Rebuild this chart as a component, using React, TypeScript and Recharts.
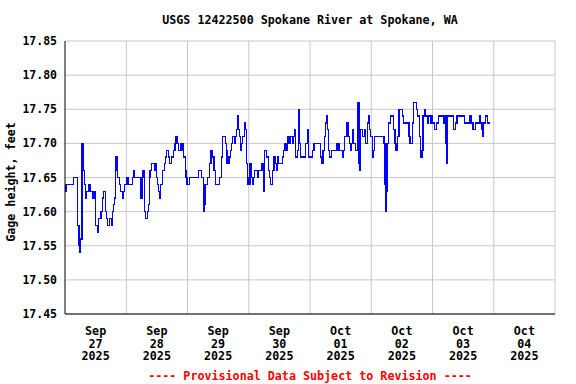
import React from 'react';
import { LineChart, Line, XAxis, YAxis, CartesianGrid, ReferenceLine } from 'recharts';

// hours since 2025-09-27 00:00 (local) at which the gage value changes
const hours = [
  0, 0.4, 3.4, 5.0, 5.5, 5.8, 6.0, 6.7, 7.1, 7.6, 8.1, 8.4, 9.3, 9.8, 11.0, 11.4, 11.9, 12.6, 13.1, 14.1,
  14.8, 15.2, 15.8, 16.2, 16.7, 17.5, 18.2, 18.6, 19.0, 19.5, 19.8, 20.0, 20.4, 20.7, 21.4, 21.8, 22.4, 22.8, 23.3, 24.3,
  24.7, 26.3, 26.7, 27.2, 29.8, 30.2, 30.6, 31.0, 31.3, 31.6, 32.2, 32.6, 33.0, 33.3, 34.0, 35.0, 35.4, 35.8, 36.2, 36.7,
  37.1, 37.5, 38.2, 39.1, 39.5, 39.9, 40.4, 41.0, 41.6, 42.4, 43.1, 43.5, 44.0, 44.6, 45.2, 45.6, 46.0, 46.5, 47.1, 47.4,
  47.8, 48.8, 52.4, 53.6, 54.2, 54.5, 54.7, 54.9, 55.9, 56.7, 57.2, 57.9, 58.4, 59.0, 60.6, 61.2, 61.6, 62.9, 63.3, 63.5,
  64.3, 64.7, 65.1, 65.7, 66.4, 66.9, 67.3, 67.6, 68.0, 68.3, 68.7, 69.3, 69.7, 70.2, 70.7, 71.0, 71.4, 71.7, 72.1, 72.5,
  73.2, 73.6, 74.0, 74.4, 75.3, 75.9, 77.2, 77.9, 78.3, 78.9, 79.6, 80.2, 80.6, 81.3, 81.9, 82.5, 82.8, 83.2, 83.6, 85.2,
  85.6, 86.1, 86.6, 87.2, 87.8, 88.5, 89.1, 89.5, 90.0, 90.4, 91.1, 91.6, 92.0, 92.2, 94.3, 94.9, 95.3, 97.0, 97.6, 100.1,
  100.7, 101.1, 101.7, 102.0, 102.4, 102.8, 103.2, 103.6, 104.3, 106.6, 107.4, 108.6, 109.2, 109.6, 110.4, 110.9, 111.5, 111.8, 112.4, 112.6,
  113.2, 113.9, 114.6, 114.8, 115.2, 115.5, 115.9, 116.5, 117.2, 117.8, 118.5, 118.9, 119.3, 119.8, 120.5, 120.9, 121.2, 125.0, 125.4, 125.8,
  126.0, 126.2, 126.7, 127.4, 128.8, 129.3, 129.7, 130.3, 130.9, 132.2, 132.6, 134.8, 135.2, 136.1, 136.4, 136.7, 137.6, 138.2, 139.0, 139.4,
  139.9, 140.3, 140.8, 141.4, 141.9, 142.4, 143.1, 143.6, 144.1, 144.8, 145.5, 146.2, 148.4, 148.9, 149.3, 149.7, 150.0, 152.1, 153.0, 153.6,
  156.5, 158.6, 159.1, 159.9, 160.7, 162.3, 162.8, 163.4, 163.7, 164.1, 164.9, 165.5, 166.7,
];

// gage height, feet
const levels = [
  17.63, 17.64, 17.65, 17.58, 17.55, 17.54, 17.56, 17.70, 17.66, 17.64, 17.62, 17.63, 17.64, 17.63, 17.62, 17.63, 17.58, 17.57, 17.59, 17.60,
  17.62, 17.63, 17.60, 17.59, 17.58, 17.59, 17.58, 17.60, 17.61, 17.62, 17.66, 17.68, 17.67, 17.65, 17.64, 17.63, 17.62, 17.63, 17.64, 17.65,
  17.64, 17.65, 17.66, 17.65, 17.62, 17.65, 17.66, 17.61, 17.60, 17.59, 17.60, 17.61, 17.65, 17.66, 17.67, 17.66, 17.67, 17.65, 17.64, 17.63,
  17.62, 17.64, 17.66, 17.67, 17.68, 17.69, 17.68, 17.67, 17.68, 17.69, 17.70, 17.71, 17.70, 17.69, 17.70, 17.69, 17.70, 17.68, 17.66, 17.65,
  17.64, 17.65, 17.66, 17.65, 17.64, 17.60, 17.61, 17.64, 17.65, 17.67, 17.69, 17.68, 17.66, 17.64, 17.65, 17.68, 17.71, 17.70, 17.69, 17.67,
  17.68, 17.69, 17.70, 17.71, 17.70, 17.71, 17.72, 17.74, 17.72, 17.71, 17.69, 17.70, 17.71, 17.73, 17.72, 17.67, 17.64, 17.65, 17.64, 17.67,
  17.65, 17.64, 17.65, 17.66, 17.65, 17.66, 17.67, 17.63, 17.69, 17.68, 17.66, 17.65, 17.64, 17.66, 17.68, 17.67, 17.66, 17.68, 17.67, 17.68,
  17.69, 17.70, 17.69, 17.71, 17.70, 17.71, 17.70, 17.71, 17.72, 17.68, 17.69, 17.75, 17.70, 17.68, 17.70, 17.72, 17.68, 17.69, 17.70, 17.68,
  17.67, 17.69, 17.71, 17.73, 17.74, 17.72, 17.69, 17.68, 17.69, 17.70, 17.69, 17.68, 17.69, 17.71, 17.73, 17.71, 17.70, 17.69, 17.70, 17.72,
  17.70, 17.69, 17.70, 17.76, 17.67, 17.66, 17.72, 17.71, 17.72, 17.70, 17.73, 17.74, 17.72, 17.71, 17.68, 17.69, 17.71, 17.70, 17.64, 17.60,
  17.63, 17.70, 17.73, 17.74, 17.72, 17.70, 17.69, 17.71, 17.75, 17.74, 17.73, 17.71, 17.70, 17.73, 17.75, 17.76, 17.75, 17.74, 17.71, 17.68,
  17.69, 17.74, 17.75, 17.74, 17.73, 17.74, 17.73, 17.74, 17.73, 17.72, 17.73, 17.74, 17.73, 17.74, 17.70, 17.67, 17.74, 17.72, 17.73, 17.74,
  17.73, 17.74, 17.73, 17.72, 17.73, 17.74, 17.73, 17.72, 17.71, 17.73, 17.74, 17.73, 17.73,
];

const yTicks = [17.45, 17.5, 17.55, 17.6, 17.65, 17.7, 17.75, 17.8, 17.85];
const dayCenters = [12, 36, 60, 84, 108, 132, 156, 180];
const dayBounds = [24, 48, 72, 96, 120, 144, 168, 192];
const dayMonths = ['Sep', 'Sep', 'Sep', 'Sep', 'Oct', 'Oct', 'Oct', 'Oct'];
const dayNums = ['27', '28', '29', '30', '01', '02', '03', '04'];
const dayYears = ['2025', '2025', '2025', '2025', '2025', '2025', '2025', '2025'];

const title = 'USGS 12422500 Spokane River at Spokane, WA';
const yLabel = 'Gage height, feet';
const footer = '---- Provisional Data Subject to Revision ----';

const data = hours.map((h, i) => ({ h, v: levels[i] }));

const FONT = '"DejaVu Sans Mono", monospace';
const GRID = '#c8c8c8';

const DayTick = (props: any) => {
  const { x, payload } = props;
  const i = dayCenters.indexOf(payload.value);
  if (i < 0) return null;
  const common = { x, textAnchor: 'middle' as const, fontFamily: FONT, fontWeight: 'bold', fontSize: 11.7, fill: '#000' };
  return (
    <g>
      <text {...common} y={334.5}>{dayMonths[i]}</text>
      <text {...common} y={347.5}>{dayNums[i]}</text>
      <text {...common} y={360}>{dayYears[i]}</text>
    </g>
  );
};

export default function App() {
  return (
    <div style={{ position: 'absolute', left: 0, top: 0, width: 576, height: 384, background: '#fff' }}>
      <LineChart width={576} height={384} data={data} margin={{ top: 41, right: 21, bottom: 10, left: 5 }}>
        <CartesianGrid vertical={false} stroke={GRID} />
        {dayBounds.map((b) => (
          <ReferenceLine key={b} x={b} stroke={GRID} strokeWidth={1} />
        ))}
        <XAxis
          type="number"
          dataKey="h"
          domain={[0, 192]}
          ticks={dayCenters}
          interval={0}
          tickLine={false}
          axisLine={{ stroke: '#000' }}
          tick={<DayTick />}
          height={60}
          allowDataOverflow
        />
        <YAxis
          type="number"
          domain={[17.45, 17.85]}
          ticks={yTicks}
          interval={0}
          tickFormatter={(v: number) => v.toFixed(2)}
          tickLine={false}
          axisLine={{ stroke: '#000' }}
          width={60}
          tick={{ fill: '#000', fontFamily: FONT, fontWeight: 'bold', fontSize: 11.5 }}
          allowDataOverflow
        />
        <Line
          type="stepAfter"
          dataKey="v"
          stroke="#0000ff"
          strokeWidth={1.2}
          shapeRendering="crispEdges"
          dot={false}
          isAnimationActive={false}
        />
      </LineChart>
      <svg width={576} height={384} style={{ position: 'absolute', left: 0, top: 0, pointerEvents: 'none' }}>
        <text x={310} y={24} textAnchor="middle" fontFamily={FONT} fontWeight="bold" fontSize={11.7} fill="#000">
          {title}
        </text>
        <text
          x={0}
          y={0}
          transform="translate(15,182) rotate(-90)"
          textAnchor="middle"
          fontFamily={FONT}
          fontWeight="bold"
          fontSize={11.7}
          fill="#000"
        >
          {yLabel}
        </text>
        <text x={310} y={379.5} textAnchor="middle" fontFamily={FONT} fontWeight="bold" fontSize={11.7} fill="#ff0000">
          {footer}
        </text>
      </svg>
    </div>
  );
}
